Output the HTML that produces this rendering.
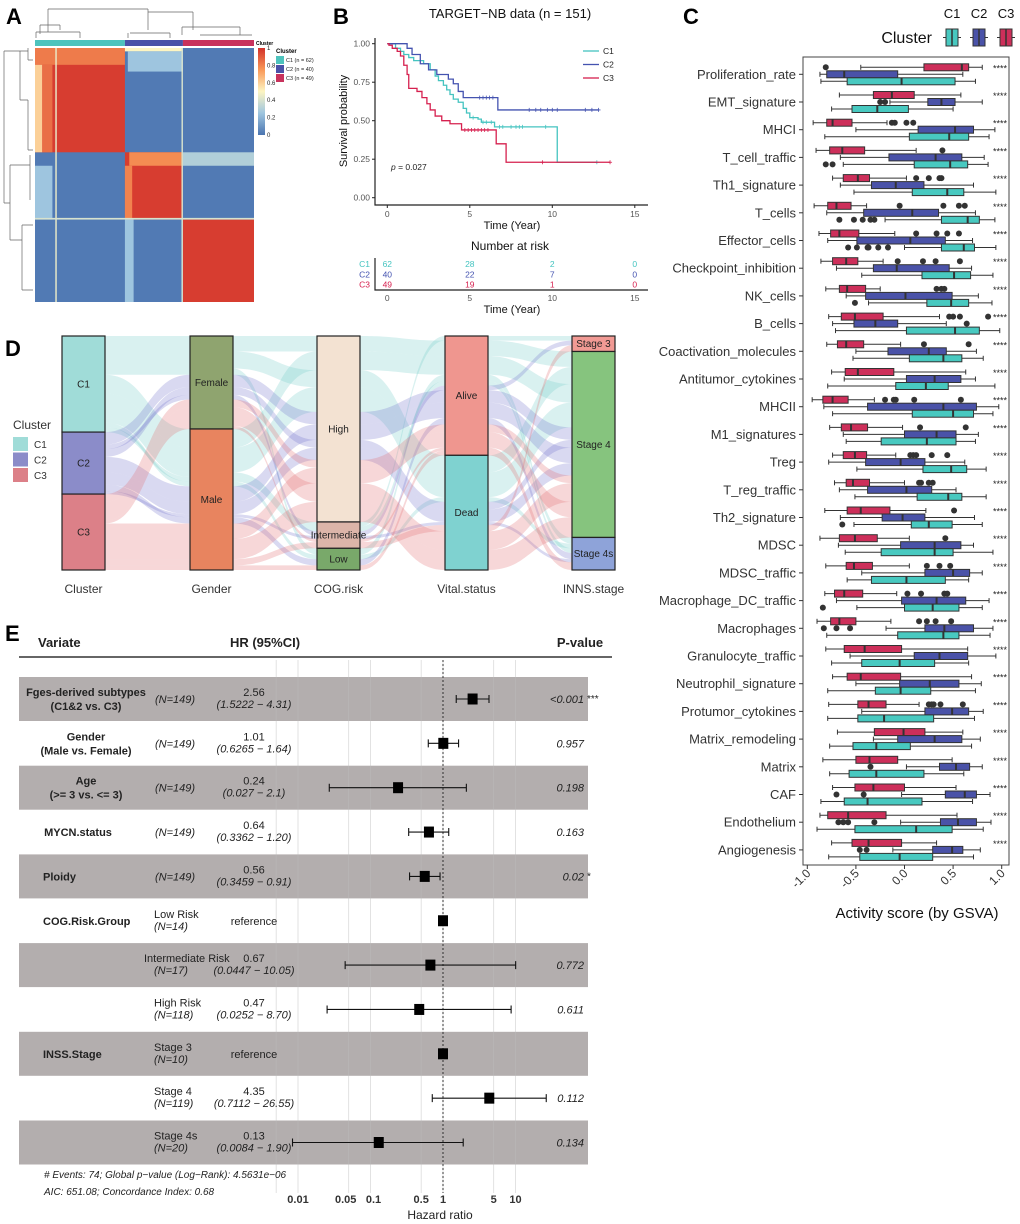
<!DOCTYPE html>
<html><head><meta charset="utf-8"><style>
html,body{margin:0;padding:0;background:#fff;}
svg{display:block;font-family:"Liberation Sans",Arial,sans-serif;}
</style></head><body>
<svg id="fig" width="1020" height="1224" viewBox="0 0 1020 1224" xmlns="http://www.w3.org/2000/svg"></svg>
<script>
// ---------- DATA ----------
const heatBlocks=[[0,151,0,151,0.02],[0,62,0,62,0.97],[0,62,0,10,0.82],[0,5,10,62,0.6],[5,12,10,62,0.85],[14,15,0,151,0.45],[62,102,0,2,0.5],[64,102,2,14,0.25],[62,102,62,102,0.97],[65,102,62,70,0.78],[62,67,70,102,0.8],[102,151,62,70,0.3],[0,12,70,102,0.25],[102,151,102,151,0.97],[62,68,102,151,0.25],[0,151,101,102,0.4],[101,102,0,151,0.4]];
const c1Times=[0,0.5,0.8,1.0,1.3,1.6,2.2,2.6,2.9,3.1,3.4,3.6,3.8,4.0,4.3,4.6,4.8,5.0,5.5,5.7,6.5,10.3,12.7];
const c1Surv=[1,0.97,0.95,0.93,0.91,0.89,0.87,0.83,0.79,0.76,0.73,0.70,0.67,0.64,0.62,0.58,0.55,0.52,0.51,0.49,0.46,0.23,0.23];
const c2Times=[0,1.2,1.5,2.0,2.5,3.0,3.7,4.0,4.3,4.6,6.7,12.8];
const c2Surv=[1,0.97,0.93,0.87,0.83,0.80,0.77,0.74,0.69,0.65,0.57,0.57];
const c3Times=[0,0.1,0.3,0.6,0.8,1.0,1.2,1.3,1.8,2.1,2.4,2.6,2.9,3.3,3.8,4.5,6.6,7.2,13.5];
const c3Surv=[1,0.99,0.97,0.95,0.92,0.86,0.80,0.71,0.69,0.65,0.61,0.57,0.53,0.50,0.48,0.44,0.35,0.23,0.23];
const c1Cens=[5.2,5.8,6.0,6.3,6.8,7.0,7.5,7.8,8.0,8.2,9.6,12.7];
const c2Cens=[5.6,5.8,6.0,6.2,6.4,8.6,9.0,9.3,9.7,10.0,10.3,12.0,12.4,12.8];
const c3Cens=[4.7,4.9,5.1,5.3,5.5,5.7,5.9,6.1,9.4,13.5];
const riskTimes=[0,5,10,15];
const riskC1=[62,28,2,0], riskC2=[40,22,7,0], riskC3=[49,19,1,0];
const kmYTicks=[0,0.25,0.5,0.75,1];
const sigNames=["Proliferation_rate","EMT_signature","MHCI","T_cell_traffic","Th1_signature","T_cells","Effector_cells","Checkpoint_inhibition","NK_cells","B_cells","Coactivation_molecules","Antitumor_cytokines","MHCII","M1_signatures","Treg","T_reg_traffic","Th2_signature","MDSC","MDSC_traffic","Macrophage_DC_traffic","Macrophages","Granulocyte_traffic","Neutrophil_signature","Protumor_cytokines","Matrix_remodeling","Matrix","CAF","Endothelium","Angiogenesis"];
const c3Stats=[[-0.45,0.20,0.59,0.66,0.80],[-0.67,-0.32,-0.13,0.10,0.58],[-0.94,-0.80,-0.74,-0.54,-0.18],[-0.91,-0.77,-0.64,-0.41,0.12],[-0.74,-0.63,-0.48,-0.36,0.02],[-0.93,-0.79,-0.70,-0.55,-0.39],[-0.88,-0.76,-0.67,-0.47,-0.10],[-0.86,-0.74,-0.60,-0.48,-0.22],[-0.81,-0.67,-0.59,-0.40,-0.25],[-0.78,-0.65,-0.51,-0.22,0.36],[-0.80,-0.69,-0.60,-0.42,-0.04],[-0.75,-0.61,-0.48,-0.11,0.63],[-0.95,-0.84,-0.74,-0.58,-0.31],[-0.77,-0.65,-0.55,-0.38,-0.02],[-0.74,-0.63,-0.51,-0.39,-0.09],[-0.72,-0.60,-0.53,-0.36,0.00],[-0.82,-0.59,-0.45,-0.15,0.22],[-0.87,-0.67,-0.51,-0.28,0.05],[-0.81,-0.60,-0.52,-0.33,0.05],[-0.82,-0.72,-0.62,-0.43,-0.08],[-0.90,-0.76,-0.67,-0.50,-0.14],[-0.81,-0.62,-0.41,-0.03,0.65],[-0.74,-0.59,-0.45,-0.04,0.69],[-0.78,-0.48,-0.37,-0.19,0.15],[-0.69,-0.31,-0.01,0.21,0.60],[-0.84,-0.50,-0.36,-0.07,0.49],[-0.74,-0.51,-0.32,0.00,0.53],[-0.87,-0.79,-0.58,-0.19,0.54],[-0.75,-0.54,-0.37,-0.03,0.33]];
const c2Stats=[[-0.87,-0.80,-0.62,-0.07,0.60],[-0.15,0.24,0.38,0.52,0.80],[-0.50,0.14,0.52,0.71,0.93],[-0.66,-0.16,0.32,0.59,0.82],[-0.66,-0.34,-0.09,0.20,0.71],[-0.80,-0.42,0.08,0.35,0.73],[-0.79,-0.49,0.06,0.42,0.70],[-0.70,-0.32,-0.08,0.46,0.69],[-0.60,-0.40,0.01,0.49,0.76],[-0.74,-0.52,-0.30,-0.07,0.43],[-0.50,-0.17,0.25,0.43,0.74],[-0.62,0.02,0.31,0.58,0.73],[-0.83,-0.38,0.40,0.74,0.97],[-0.63,0.00,0.33,0.53,0.76],[-0.78,-0.40,-0.04,0.21,0.62],[-0.67,-0.38,0.02,0.28,0.53],[-0.66,-0.23,-0.02,0.21,0.72],[-0.68,-0.04,0.31,0.58,0.71],[-0.44,0.21,0.50,0.67,0.80],[-0.70,-0.03,0.33,0.63,0.87],[-0.19,0.21,0.41,0.71,0.91],[-0.56,0.10,0.36,0.65,0.94],[-0.50,-0.05,0.26,0.56,0.79],[-0.44,0.21,0.49,0.66,0.81],[-0.32,-0.07,0.31,0.59,0.78],[0.02,0.36,0.53,0.67,0.80],[-0.03,0.42,0.62,0.74,0.88],[-0.04,0.37,0.55,0.74,0.89],[-0.12,0.29,0.49,0.60,0.78]];
const c1Stats=[[-0.86,-0.59,-0.03,0.52,0.73],[-0.75,-0.54,-0.28,0.04,0.50],[-0.82,0.05,0.46,0.66,0.87],[-0.63,0.10,0.47,0.65,0.86],[-0.52,0.08,0.44,0.61,0.94],[-0.20,0.38,0.65,0.77,0.93],[0.00,0.38,0.61,0.72,0.94],[-0.44,0.18,0.51,0.68,0.91],[-0.37,0.23,0.48,0.66,0.90],[-0.71,0.02,0.52,0.77,0.98],[-0.53,0.05,0.40,0.59,0.81],[-0.79,-0.09,0.22,0.45,0.93],[-0.74,0.08,0.50,0.71,0.91],[-0.60,-0.24,0.23,0.53,0.73],[-0.49,0.19,0.48,0.64,0.84],[-0.51,0.13,0.45,0.59,0.84],[-0.52,0.07,0.25,0.49,0.80],[-0.61,-0.24,0.31,0.50,0.91],[-0.59,-0.34,0.02,0.42,0.66],[-0.49,0.00,0.29,0.56,0.80],[-0.80,-0.07,0.40,0.56,0.88],[-0.75,-0.44,-0.05,0.31,0.66],[-0.79,-0.30,-0.04,0.27,0.73],[-0.79,-0.48,-0.21,0.30,0.72],[-0.77,-0.53,-0.29,0.06,0.69],[-0.77,-0.57,-0.29,0.20,0.61],[-0.86,-0.62,-0.38,0.18,0.70],[-0.90,-0.51,0.12,0.49,0.81],[-0.78,-0.46,-0.05,0.29,0.71]];
const c3Out=[[-0.81],[],[-0.13,-0.10,0.02,0.09],[0.39],[0.12,0.25,0.36,0.38],[-0.05,0.40,0.56,0.62],[0.12,0.33,0.44,0.56],[-0.07,0.19,0.32,0.57],[0.33,0.38,0.41],[0.46,0.50,0.57,0.86],[0.20,0.66],[],[-0.20,-0.11,-0.09,0.10,0.58],[0.16,0.63],[0.06,0.09,0.12,0.28,0.44],[0.15,0.17,0.25,0.29],[0.51],[0.42],[0.23,0.36,0.47],[0.03,0.17,0.41,0.44],[0.15,0.23,0.32,0.48],[],[],[0.25,0.28,0.30,0.37,0.60],[],[],[],[],[]];
const c2Out=[[],[-0.25,-0.20],[],[],[],[],[],[],[],[0.64],[],[],[],[],[],[],[],[],[],[],[-0.83,-0.70,-0.56],[],[],[],[],[-0.35],[-0.70,-0.42],[-0.68,-0.63,-0.58,-0.31],[-0.46,-0.39]];
const c1Out=[[],[],[],[-0.81,-0.74],[],[-0.67,-0.52,-0.43,-0.35,-0.31],[-0.58,-0.49,-0.38,-0.37,-0.27,-0.17],[],[-0.51],[],[],[],[],[],[],[],[-0.64],[],[],[-0.84],[],[],[],[],[],[],[],[],[]];
const cTicks=[-1,-0.5,0,0.5,1];
const cTickLabels=["-1.0","-0.5","0.0","0.5","1.0"];
const axisStrata=[["C1","C2","C3"],["Female","Male"],["High","Intermediate","Low"],["Alive","Dead"],["Stage 3","Stage 4","Stage 4s"]];
const axisTitles=["Cluster","Gender","COG.risk","Vital.status","INNS.stage"];
const alluvialCombos=[[0,0,0,0,1,10],[0,0,0,1,1,11],[0,0,2,0,2,4],[0,1,0,0,1,12],[0,1,0,1,1,16],[0,1,1,0,0,3],[0,1,2,1,2,3],[0,1,1,0,2,3],
[1,0,0,0,1,8],[1,0,1,0,0,3],[1,0,0,1,1,5],[1,1,0,0,1,10],[1,1,0,1,1,8],[1,1,2,0,2,4],[1,1,1,1,2,2],
[2,0,0,0,1,5],[2,0,0,1,1,12],[2,0,1,0,2,2],[2,1,0,0,1,10],[2,1,0,1,1,13],[2,1,1,1,0,4],[2,1,2,0,2,3]];
const feVar=["Fges-derived subtypes|(C1&2 vs. C3)","Gender|(Male vs. Female)","Age|(>= 3 vs. <= 3)","MYCN.status","Ploidy","COG.Risk.Group","","","INSS.Stage","",""];
const feLevel=["(N=149)","(N=149)","(N=149)","(N=149)","(N=149)","Low Risk|(N=14)","Intermediate Risk|(N=17)","High Risk|(N=118)","Stage 3|(N=10)","Stage 4|(N=119)","Stage 4s|(N=20)"];
const feHR=[2.56,1.01,0.24,0.64,0.56,1,0.67,0.47,1,4.35,0.13];
const feLo=[1.5222,0.6265,0.027,0.3362,0.3459,null,0.0447,0.0252,null,0.7112,0.0084];
const feHi=[4.31,1.64,2.1,1.20,0.91,null,10.05,8.70,null,26.55,1.90];
const feHRText=["2.56","1.01","0.24","0.64","0.56","reference","0.67","0.47","reference","4.35","0.13"];
const feCIText=["(1.5222 −  4.31)","(0.6265 −  1.64)","(0.027 − 2.1)","(0.3362 −  1.20)","(0.3459 −  0.91)","","(0.0447 − 10.05)","(0.0252 −  8.70)","","(0.7112 − 26.55)","(0.0084 −  1.90)"];
const feP=["<0.001","0.957","0.198","0.163","0.02","","0.772","0.611","","0.112","0.134"];
const feStars=["***","","","","*","","","","","",""];
const feTicks=[0.01,0.05,0.1,0.5,1,5,10];
const feTickLabels=["0.01","0.05","0.1","0.5","1","5","10"];

// ---------- HELPERS ----------
const NS="http://www.w3.org/2000/svg";
const svg=document.getElementById("fig");
function mk(tag,attrs,par){const e=document.createElementNS(NS,tag);for(const k in attrs)e.setAttribute(k,attrs[k]);(par||svg).appendChild(e);return e;}
function T(x,y,s,attrs,par){const e=mk("text",Object.assign({x:x,y:y},attrs||{}),par);e.textContent=s;return e;}
let el;

[["A",6,24],["B",333,24],["C",683,24],["D",5,356],["E",5,641]].forEach(p=>{
  el=T(p[1],p[2],p[0],{"font-size":22,"font-weight":"bold",fill:"#000"});
  
  
});

// ---------- PANEL A ----------
const gA=mk("g",{});


const hx0=35,hy0=48,cw=219/151,chh=254/151;
function heatColor(v){const st=[[0,[74,116,176]],[0.25,[158,197,223]],[0.5,[253,245,194]],[0.75,[249,152,88]],[1,[210,49,42]]];
 for(let i=1;i<st.length;i++){if(v<=st[i][0]){const a=st[i-1],b=st[i],t=(v-a[0])/(b[0]-a[0]);return "rgb("+a[1].map((c,j)=>Math.round(c+(b[1][j]-c)*t)).join(",")+")";}}return "rgb(210,49,42)";}
heatBlocks.forEach((b,i)=>{
  el=mk("rect",{x:hx0+b[0]*cw,y:hy0+b[2]*chh,width:(b[1]-b[0])*cw,height:(b[3]-b[2])*chh,fill:heatColor(b[4])},gA);
  
  
});
[[0,62,"#4ec3bd"],[62,102,"#4a52a8"],[102,151,"#c8325c"]].forEach(a=>{
  el=mk("rect",{x:hx0+a[0]*cw,y:40,width:(a[1]-a[0])*cw,height:6,fill:a[2]},gA);
  
  
});
el=T(256,45,"Cluster",{"font-size":5,"font-weight":"bold"},gA);


const dTop="M48,9H148 M48,9V25 M148,9V12 M148,12H193 M193,12V30 M148,12V30 M130,33H170 M36,32H80 M48,25V32 M60,25H40 M40,25V34 M60,25V30 M182,27H240 M182,27V35 M240,27V35 M128,33V38 M170,33V38 M36,32V38 M80,32V38 M200,35H252";
el=mk("path",{d:dTop,stroke:"#666",fill:"none","stroke-width":0.7},gA);


const dLeft="M4,51V203 M4,51H20 M4,203H10 M10,165V240 M10,165H30 M10,240H22 M22,225V290 M20,51V100 M20,100H28 M20,51H28 M28,48V60 M28,60H33 M30,155V200 M22,225H33 M22,290H33 M28,100V150 M28,150H33";
el=mk("path",{d:dLeft,stroke:"#666",fill:"none","stroke-width":0.7},gA);


const grad=mk("linearGradient",{id:"hg",x1:0,y1:1,x2:0,y2:0},mk("defs",{}));
[[0,0],[0.25,0.25],[0.5,0.5],[0.75,0.75],[1,1]].forEach(s=>mk("stop",{offset:s[0],"stop-color":heatColor(s[1])},grad));
el=mk("rect",{x:258,y:48,width:7,height:87,fill:"url(#hg)"},gA);


["0","0.2","0.4","0.6","0.8","1"].forEach((s,i)=>{
  el=T(267,137-i*17.4,s,{"font-size":6,fill:"#222"},gA);
  
  
});
el=T(276,53,"Cluster",{"font-size":6,"font-weight":"bold"},gA);


[["C1 (n = 62)","#4ec3bd"],["C2 (n = 40)","#4a52a8"],["C3 (n = 49)","#c8325c"]].forEach((l,i)=>{
  el=mk("rect",{x:276,y:56+i*9,width:8,height:8,fill:l[1]},gA);
  
  
  el=T(286,62+i*9,l[0],{"font-size":5.5,fill:"#222"},gA);
  
  
});

// ---------- PANEL B ----------
const gB=mk("g",{});


const kx=t=>387.3+16.5*t, ky=s=>197.7-154*s;
el=T(510,18,"TARGET−NB data (n = 151)",{"font-size":13,"text-anchor":"middle",fill:"#111"},gB);


el=mk("path",{d:"M375,38V205H648",stroke:"#222",fill:"none","stroke-width":1.2},gB);


kmYTicks.forEach(v=>{
  el=T(370,ky(v)+3,v.toFixed(2),{"font-size":8.5,"text-anchor":"end",fill:"#555"},gB);
  
  
  mk("line",{x1:372,x2:375,y1:ky(v),y2:ky(v),stroke:"#222"},gB);
});
riskTimes.forEach(t=>{
  el=T(kx(t),217,String(t),{"font-size":8.5,"text-anchor":"middle",fill:"#555"},gB);
  
  
  mk("line",{x1:kx(t),x2:kx(t),y1:205,y2:208,stroke:"#222"},gB);
});
el=T(512,229,"Time (Year)",{"font-size":11,"text-anchor":"middle",fill:"#111"},gB);


el=T(0,0,"Survival probability",{"font-size":11,"text-anchor":"middle",fill:"#111",transform:"translate(347,121) rotate(-90)"},gB);


function survAt(ts,ss,t){let s=ss[0];for(let i=0;i<ts.length;i++){if(ts[i]<=t)s=ss[i];}return s;}
[[c1Times,c1Surv,c1Cens,"#45c4c0","c1"],[c2Times,c2Surv,c2Cens,"#4453b0","c2"],[c3Times,c3Surv,c3Cens,"#d6204f","c3"]].forEach(c=>{
  let d="M"+kx(c[0][0])+","+ky(c[1][0]);
  for(let i=1;i<c[0].length;i++){d+="H"+kx(c[0][i])+"V"+ky(c[1][i]);}
  el=mk("path",{d:d,stroke:c[3],fill:"none","stroke-width":1.3},gB);
  
  
  c[2].forEach(t=>{const x=kx(t),y=ky(survAt(c[0],c[1],t));
    el=mk("path",{d:"M"+(x-2)+","+y+"H"+(x+2)+"M"+x+","+(y-2)+"V"+(y+2),stroke:c[3],"stroke-width":0.8},gB);
    
    
  });
});
[["C1","#45c4c0"],["C2","#4453b0"],["C3","#d6204f"]].forEach((l,i)=>{
  const y=51+i*13.5;
  el=mk("line",{x1:583,x2:599,y1:y,y2:y,stroke:l[1],"stroke-width":1.3},gB);
  
  
  el=T(603,y+3,l[0],{"font-size":8.5,fill:"#222"},gB);
  
  
});
el=T(391,170,"",{"font-size":8.5,fill:"#222"},gB);
el.innerHTML='<tspan font-style="italic">p</tspan> = 0.027';


el=T(510,250,"Number at risk",{"font-size":12,"text-anchor":"middle",fill:"#111"},gB);


el=mk("path",{d:"M375,258V290H648",stroke:"#222",fill:"none","stroke-width":1.2},gB);


[[riskC1,"C1","#45c4c0"],[riskC2,"C2","#4453b0"],[riskC3,"C3","#d6204f"]].forEach((r,i)=>{
  const y=267+i*10.3;
  el=T(370,y,r[1],{"font-size":8.5,"text-anchor":"end",fill:r[2]},gB);
  
  
  r[0].forEach((n,j)=>{
    el=T(kx(riskTimes[j]),y,String(n),{"font-size":8.5,"text-anchor":"middle",fill:r[2]},gB);
    
    
  });
});
riskTimes.forEach(t=>{
  el=T(kx(t),301,String(t),{"font-size":8.5,"text-anchor":"middle",fill:"#555"},gB);
  
  
});
el=T(512,313,"Time (Year)",{"font-size":11,"text-anchor":"middle",fill:"#111"},gB);



// ---------- PANEL C ----------
const gC=mk("g",{});


const cx=v=>904.5+97.2*v, rowY=i=>74.3+27.7*i;
el=mk("rect",{x:803,y:57,width:206,height:808,fill:"none",stroke:"#444","stroke-width":1},gC);


const cColors={c1:"#48c9c0",c2:"#4a52a8",c3:"#cd2f5a"};
sigNames.forEach((nm,i)=>{
  const yc=rowY(i);
  el=T(796,yc+4.5,nm,{"font-size":13,"text-anchor":"end",fill:"#333"},gC);
  
  
  mk("line",{x1:799,x2:803,y1:yc,y2:yc,stroke:"#333"},gC);
  el=T(993,yc-3,"****",{"font-size":9,fill:"#222"},gC);
  
  
  [[c3Stats,c3Out,-7,"c3"],[c2Stats,c2Out,0,"c2"],[c1Stats,c1Out,7,"c1"]].forEach(g=>{
    const s=g[0][i],y=yc+g[2];
    el=mk("line",{x1:cx(s[0]),x2:cx(s[4]),y1:y,y2:y,stroke:"#333","stroke-width":1},gC);
    
    
    mk("line",{x1:cx(s[0]),x2:cx(s[0]),y1:y-2.5,y2:y+2.5,stroke:"#333"},gC);
    mk("line",{x1:cx(s[4]),x2:cx(s[4]),y1:y-2.5,y2:y+2.5,stroke:"#333"},gC);
    el=mk("rect",{x:cx(s[1]),y:y-3.5,width:cx(s[3])-cx(s[1]),height:7,fill:cColors[g[3]],stroke:"#333","stroke-width":1},gC);
    
    
    el=mk("line",{x1:cx(s[2]),x2:cx(s[2]),y1:y-3.5,y2:y+3.5,stroke:"#333","stroke-width":2},gC);
    
    
    g[1][i].forEach(o=>{
      el=mk("circle",{cx:cx(o),cy:y,r:3,fill:"#333"},gC);
      
      
    });
  });
});
cTicks.forEach((v,i)=>{
  mk("line",{x1:cx(v),x2:cx(v),y1:865,y2:869,stroke:"#333"},gC);
  el=T(0,0,cTickLabels[i],{"font-size":12,"text-anchor":"end",fill:"#333",transform:"translate("+(cx(v)+4)+",874) rotate(-45)"},gC);
  
  
});
el=T(917,918,"Activity score (by GSVA)",{"font-size":15,"text-anchor":"middle",fill:"#111"},gC);


el=T(932,43,"Cluster",{"font-size":16,"text-anchor":"end",fill:"#111"},gC);


[["C1","c1",946],["C2","c2",973],["C3","c3",1000]].forEach(l=>{
  const x=l[2];
  el=T(x+6,18,l[0],{"font-size":13,"text-anchor":"middle",fill:"#111"},gC);
  
  
  mk("line",{x1:x-3,x2:x+15,y1:37.5,y2:37.5,stroke:"#333"},gC);
  el=mk("rect",{x:x,y:29,width:12,height:17,fill:cColors[l[1]],stroke:"#333"},gC);
  
  
  mk("line",{x1:x+6,x2:x+6,y1:29,y2:46,stroke:"#333","stroke-width":1.5},gC);
});

// ---------- PANEL D ----------
const gD=mk("g",{});


const axX=[62,190,317,445,572],barW=43,dTop0=336,dH=234,total=151;
const clusterFlow=["rgba(120,205,200,0.28)","rgba(120,120,205,0.28)","rgba(225,110,115,0.28)"];
const stratumFill=[["#a0dcd8","#8b8cc9","#dc8088"],["#8fa46f","#e8845f"],["#f3e2d2","#dcb5a9","#79a96a"],["#ef968f","#7fd2d0"],["#f19a94","#86c47e","#8ea3d9"]];
const lodes=axisStrata.map(()=>[]);
const stratumRange=axisStrata.map(()=>[]);
axisStrata.forEach((strata,a)=>{
  const nxt=Math.min(a+1,4);
  const order=alluvialCombos.map((c,i)=>i).sort((p,q)=>{const A=alluvialCombos[p],B=alluvialCombos[q];
    return (A[a]-B[a])||(A[0]-B[0])||(A[nxt]-B[nxt])||(p-q);});
  let y=dTop0;
  order.forEach(i=>{const c=alluvialCombos[i],h=c[5]*dH/total;lodes[a][i]=[y,y+h];y+=h;});
  let yy=dTop0;strata.forEach((s,k)=>{const n=alluvialCombos.filter(c=>c[a]===k).reduce((t,c)=>t+c[5],0);stratumRange[a][k]=[yy,yy+n*dH/total];yy+=n*dH/total;});
});
for(let a=0;a<4;a++){
  alluvialCombos.forEach((c,i)=>{
    const x0=axX[a]+barW,x1=axX[a+1],xm=(x0+x1)/2,A=lodes[a][i],B=lodes[a+1][i];
    el=mk("path",{d:"M"+x0+","+A[0]+"C"+xm+","+A[0]+" "+xm+","+B[0]+" "+x1+","+B[0]+"L"+x1+","+B[1]+"C"+xm+","+B[1]+" "+xm+","+A[1]+" "+x0+","+A[1]+"Z",fill:clusterFlow[c[0]]},gD);
    
    
  });
}
axisStrata.forEach((strata,a)=>{
  strata.forEach((s,k)=>{
    const r=stratumRange[a][k];
    el=mk("rect",{x:axX[a],y:r[0],width:barW,height:r[1]-r[0],fill:stratumFill[a][k],stroke:"#222","stroke-width":1.2},gD);
    
    
    el=T(axX[a]+barW/2,(r[0]+r[1])/2+3.5,s,{"font-size":10,"text-anchor":"middle",fill:"#222"},gD);
    
    
  });
  el=T(axX[a]+barW/2,593,axisTitles[a],{"font-size":12,"text-anchor":"middle",fill:"#333"},gD);
  
  
});
el=T(13,429,"Cluster",{"font-size":12,fill:"#333"},gD);


["C1","C2","C3"].forEach((s,i)=>{
  el=mk("rect",{x:13,y:437+i*15.5,width:15,height:14,fill:stratumFill[0][i]},gD);
  
  
  el=T(34,448+i*15.5,s,{"font-size":10,fill:"#333"},gD);
  
  
});

// ---------- PANEL E ----------
const gE=mk("g",{});


const fx=v=>443+72.5*Math.log10(v), fy=i=>699+44.35*i;
[0,2,4,6,8,10].forEach(i=>{
  el=mk("rect",{x:19,y:fy(i)-22,width:569,height:44,fill:"#b3aeae"},gE);
  
  
});
el=mk("line",{x1:19,x2:612,y1:657,y2:657,stroke:"#333","stroke-width":1.5},gE);


[0.005].concat(feTicks).forEach(t=>{
  el=mk("line",{x1:fx(t),x2:fx(t),y1:660,y2:1193,stroke:"rgba(190,190,190,0.55)","stroke-width":0.8},gE);
  
  
});
el=mk("line",{x1:fx(1),x2:fx(1),y1:660,y2:1193,stroke:"#222","stroke-width":0.9,"stroke-dasharray":"2,2"},gE);


[["Variate",38,"start"],["HR (95%CI)",265,"middle"],["P-value",580,"middle"]].forEach(h=>{
  el=T(h[1],647,h[0],{"font-size":13,"font-weight":"bold","text-anchor":h[2],fill:"#222"},gE);
  
  
});
feVar.forEach((v,i)=>{
  const yc=fy(i);
  if(v){const parts=v.split("|");
    const anchor=(i===5||i===8||i===3||i===4)?"start":"middle";
    const xx=anchor==="start"?43:86;
    parts.forEach((p,k)=>{
      const y=parts.length===1?yc+4:yc-3+k*14;
      el=T(i===3?78:xx,y,p,{"font-size":11,"font-weight":"bold","text-anchor":i===3?"middle":anchor,fill:"#222"},gE);
      
      
    });}
  const lv=feLevel[i].split("|");
  if(lv.length===1){
    el=T(175,yc+4,lv[0],{"font-size":11,"font-style":"italic","text-anchor":"middle",fill:"#222"},gE);
    
    
  }else{
    el=T(i===6?144:154,yc-3,lv[0],{"font-size":11,fill:"#222"},gE);
    
    
    el=T(154,yc+9,lv[1],{"font-size":11,"font-style":"italic",fill:"#222"},gE);
    
    
  }
  if(feLo[i]===null){
    el=T(254,yc+4,feHRText[i],{"font-size":11,"text-anchor":"middle",fill:"#222"},gE);
    
    
  }else{
    el=T(254,yc-3,feHRText[i],{"font-size":11,"text-anchor":"middle",fill:"#222"},gE);
    
    
    el=T(254,yc+9,feCIText[i],{"font-size":11,"font-style":"italic","text-anchor":"middle",fill:"#222"},gE);
    
    
    el=mk("path",{d:"M"+fx(feLo[i])+","+yc+"H"+fx(feHi[i])+"M"+fx(feLo[i])+","+(yc-4)+"V"+(yc+4)+"M"+fx(feHi[i])+","+(yc-4)+"V"+(yc+4),stroke:"#111","stroke-width":1.1,fill:"none"},gE);
    
    
  }
  el=mk("rect",{x:fx(feHR[i])-5,y:yc-5.5,width:10,height:11,fill:"#000"},gE);
  
  
  if(feP[i]){
    el=T(584,yc+4,feP[i],{"font-size":11,"font-style":"italic","text-anchor":"end",fill:"#222"},gE);
    
    
    if(feStars[i]){el=T(587,yc+3,feStars[i],{"font-size":10,fill:"#222"},gE);
      
      }
  }
});
feTicks.forEach((t,i)=>{
  const off=(t===0.05)?-3:(t===0.1?3:0);
  el=T(fx(t)+off,1203,feTickLabels[i],{"font-size":11,"font-weight":"bold","text-anchor":"middle",fill:"#333"},gE);
  
  
});
el=T(440,1219,"Hazard ratio",{"font-size":12,"text-anchor":"middle",fill:"#222"},gE);


el=T(44,1178,"# Events: 74; Global p−value (Log−Rank): 4.5631e−06",{"font-size":10,"font-style":"italic",fill:"#222"},gE);


el=T(44,1195,"AIC: 651.08; Concordance Index: 0.68",{"font-size":10,"font-style":"italic",fill:"#222"},gE);


</script>
</body></html>
